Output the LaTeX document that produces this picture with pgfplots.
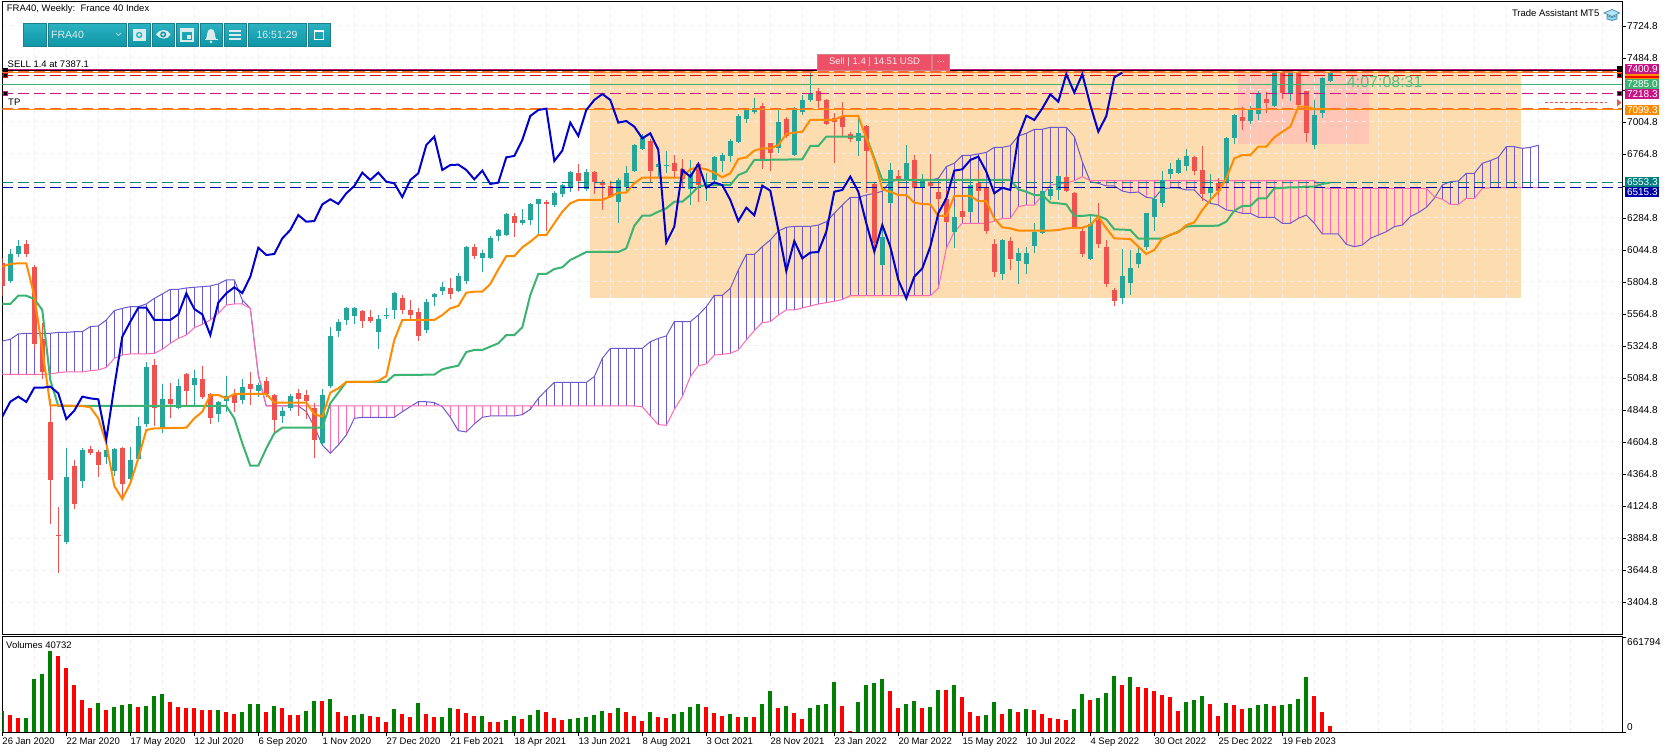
\documentclass[border=0pt]{standalone}
\usepackage{fontspec}
\setmainfont{Liberation Sans}
\usepackage{pgfplots}
\usepackage{pgfplotstable}
\pgfplotsset{compat=1.18}
\definecolor{cup}{HTML}{26A69A}
\definecolor{cdn}{HTML}{EF5350}
\definecolor{ora}{HTML}{FF8C00}
\definecolor{grn}{HTML}{3CB371}
\definecolor{blu}{HTML}{0000CD}
\definecolor{spa}{HTML}{6A5ACD}
\definecolor{spb}{HTML}{FF69B4}
\definecolor{mag}{HTML}{C71585}
\definecolor{gridc}{HTML}{EFEFEF}
\definecolor{rectA}{HTML}{FDDCAF}
\definecolor{rectB}{HTML}{FFC5B5}
\definecolor{teal2}{HTML}{008080}
\definecolor{navy2}{HTML}{0000A8}
\definecolor{tbT}{HTML}{2BB2C1}
\definecolor{tbB}{HTML}{0E96A7}
\definecolor{tbL}{HTML}{1C7F8E}
\definecolor{tbI}{HTML}{DCEBEC}
\definecolor{sellc}{HTML}{EE5068}
\definecolor{dashO}{HTML}{FF6A33}
\newcommand{\fs}{\fontsize{9.5}{11}\selectfont}
\newcommand{\fp}{\fontsize{10}{11}\selectfont}

\pgfplotstableread[row sep=\\]{
i o h l c \\
0 5945 5985 5700 5775 \\ 1 5815 6050 5800 6015 \\ 2 6015 6120 5990 6075 \\ 3 6090 6120 5990 6015 \\
4 5920 5930 5300 5337 \\ 5 5377 5500 5075 5132 \\ 6 4755 4925 3990 4320 \\ 7 3910 4115 3620 3900 \\
8 3855 4560 3840 4342 \\ 9 4425 4470 4102 4140 \\ 10 4312 4558 4260 4545 \\ 11 4552 4575 4510 4522 \\
12 4530 4545 4345 4432 \\ 13 4492 4560 4440 4545 \\ 14 4387 4562 4350 4552 \\ 15 4560 4570 4170 4290 \\
16 4327 4570 4320 4467 \\ 17 4477 4795 4470 4725 \\ 18 4740 5202 4720 5167 \\ 19 5182 5225 4725 4862 \\
20 4712 5040 4675 4927 \\ 21 4927 5050 4785 4890 \\ 22 4862 5077 4850 5025 \\ 23 5115 5125 4875 4987 \\
24 5032 5145 4885 5085 \\ 25 5077 5175 4925 4942 \\ 26 4965 4970 4740 4785 \\ 27 4815 4915 4755 4905 \\
28 4915 5100 4830 4947 \\ 29 4965 5000 4830 4897 \\ 30 4920 5077 4890 5017 \\ 31 5040 5127 4880 5002 \\
32 4990 5045 4945 5030 \\ 33 5062 5090 4945 4965 \\ 34 4957 4965 4670 4770 \\ 35 4800 4870 4745 4837 \\
36 4860 4965 4840 4950 \\ 37 4972 5002 4800 4927 \\ 38 4957 4995 4780 4912 \\ 39 4860 4895 4485 4620 \\
40 4595 5002 4582 4957 \\ 41 5027 5467 5007 5400 \\ 42 5437 5527 5395 5505 \\ 43 5520 5615 5482 5610 \\
44 5550 5615 5490 5610 \\ 45 5587 5595 5462 5512 \\ 46 5542 5595 5495 5512 \\ 47 5430 5557 5302 5527 \\
48 5550 5610 5527 5557 \\ 49 5595 5730 5527 5725 \\ 50 5685 5707 5562 5595 \\ 51 5595 5670 5520 5557 \\
52 5580 5607 5365 5400 \\ 53 5445 5675 5425 5655 \\ 54 5692 5725 5625 5715 \\ 55 5737 5807 5707 5767 \\
56 5760 5832 5680 5715 \\ 57 5737 5870 5732 5850 \\ 58 5812 6075 5790 6067 \\ 59 6067 6090 5977 5999 \\
60 5985 6045 5880 6022 \\ 61 5985 6150 5977 6135 \\ 62 6150 6200 6112 6195 \\ 63 6157 6325 6152 6315 \\
64 6300 6320 6145 6247 \\ 65 6247 6352 6235 6270 \\ 66 6270 6400 6235 6390 \\ 67 6390 6430 6157 6425 \\
68 6405 6420 6187 6387 \\ 69 6382 6490 6367 6470 \\ 70 6465 6540 6445 6530 \\ 71 6507 6635 6480 6630 \\
72 6622 6690 6490 6562 \\ 73 6502 6650 6490 6630 \\ 74 6630 6637 6465 6555 \\ 75 6545 6570 6345 6535 \\
76 6525 6565 6435 6442 \\ 77 6405 6582 6250 6570 \\ 78 6517 6675 6490 6622 \\ 79 6637 6840 6630 6832 \\
80 6802 6915 6795 6885 \\ 81 6862 6875 6545 6637 \\ 82 6670 6815 6582 6690 \\ 83 6677 6785 6620 6683 \\
84 6697 6757 6595 6637 \\ 85 6652 6725 6520 6577 \\ 86 6502 6720 6385 6607 \\ 87 6690 6695 6405 6532 \\
88 6525 6620 6410 6535 \\ 89 6570 6750 6540 6742 \\ 90 6712 6775 6630 6757 \\ 91 6750 6875 6705 6862 \\
92 6855 7065 6850 7050 \\ 93 7027 7100 7000 7095 \\ 94 7080 7185 7065 7110 \\ 95 7125 7145 6655 6720 \\
96 6845 6850 6640 6772 \\ 97 6810 7105 6775 7005 \\ 98 7027 7045 6882 6900 \\ 99 6760 7120 6755 7095 \\
100 7082 7207 7057 7170 \\ 101 7170 7382 7157 7220 \\ 102 7237 7257 7100 7165 \\ 103 7170 7180 6985 6990 \\
104 7032 7070 6695 7007 \\ 105 7045 7157 6895 6965 \\ 106 6915 6932 6857 6880 \\ 107 6862 7032 6750 6920 \\
108 6975 6980 6470 6790 \\ 109 6540 6550 6020 6095 \\ 110 5932 6220 5930 6145 \\ 111 6400 6695 6395 6645 \\
112 6600 6645 6515 6580 \\ 113 6575 6832 6565 6700 \\ 114 6720 6757 6500 6507 \\ 115 6515 6615 6507 6570 \\
116 6557 6765 6515 6525 \\ 117 6480 6545 6370 6430 \\ 118 6425 6495 6245 6257 \\ 119 6182 6370 6057 6295 \\
120 6337 6420 6270 6295 \\ 121 6332 6570 6320 6532 \\ 122 6550 6645 6445 6490 \\ 123 6514 6532 6165 6190 \\
124 6090 6125 5840 5882 \\ 125 5865 6125 5820 6120 \\ 126 6115 6140 5895 5977 \\ 127 5965 6057 5787 6022 \\
128 5940 6065 5865 6022 \\ 129 6077 6245 6025 6182 \\ 130 6175 6495 6165 6487 \\ 131 6450 6532 6420 6500 \\
132 6495 6615 6420 6600 \\ 133 6595 6607 6482 6490 \\ 134 6474 6482 6207 6220 \\ 135 6187 6220 5995 6015 \\
136 5977 6307 5975 6240 \\ 137 6270 6395 6057 6090 \\ 138 6070 6120 5765 5790 \\ 139 5744 5760 5625 5665 \\
140 5682 6050 5640 5850 \\ 141 5800 6045 5707 5907 \\ 142 5940 6070 5907 6020 \\ 143 6065 6325 6045 6320 \\
144 6295 6450 6190 6427 \\ 145 6400 6640 6365 6570 \\ 146 6615 6695 6575 6652 \\ 147 6625 6732 6615 6720 \\
148 6675 6800 6640 6750 \\ 149 6740 6750 6607 6640 \\ 150 6645 6825 6415 6465 \\ 151 6470 6615 6400 6507 \\
152 6550 6582 6457 6490 \\ 153 6557 6895 6555 6887 \\ 154 6885 7062 6840 7057 \\ 155 7042 7120 6945 7012 \\
156 7012 7125 6990 7095 \\ 157 7065 7240 7020 7220 \\ 158 7175 7232 7070 7145 \\ 159 7125 7390 7115 7375 \\
160 7375 7390 7175 7220 \\ 161 7220 7390 7165 7375 \\ 162 7375 7390 7095 7132 \\ 163 7237 7240 6855 6925 \\
164 6832 7170 6800 7057 \\ 165 7075 7345 7035 7335 \\ 166 7312 7375 7305 7370 \\
}\candles

\pgfplotstableread[row sep=\\]{
i a b \\
0 5362 5112 \\ 1 5375 5112 \\ 2 5415 5112 \\ 3 5420 5112 \\ 4 5420 5112 \\ 5 5420 5112 \\ 6 5420 5115 \\ 7 5427 5125 \\
8 5427 5130 \\ 9 5432 5130 \\ 10 5432 5130 \\ 11 5470 5140 \\ 12 5475 5145 \\ 13 5520 5165 \\ 14 5590 5232 \\ 15 5607 5257 \\
16 5620 5265 \\ 17 5620 5265 \\ 18 5640 5265 \\ 19 5682 5270 \\ 20 5715 5300 \\ 21 5750 5345 \\ 22 5750 5382 \\ 23 5760 5407 \\
24 5765 5462 \\ 25 5770 5487 \\ 26 5775 5520 \\ 27 5790 5570 \\ 28 5820 5632 \\ 29 5820 5640 \\ 30 5670 5640 \\ 31 5607 5607 \\
32 5107 5107 \\ 33 4875 4875 \\ 34 4875 4875 \\ 35 4875 4875 \\ 36 4875 4875 \\ 37 4875 4875 \\ 38 4832 4875 \\ 39 4720 4875 \\
40 4582 4875 \\ 41 4520 4875 \\ 42 4582 4875 \\ 43 4657 4875 \\ 44 4782 4875 \\ 45 4790 4875 \\ 46 4790 4875 \\ 47 4790 4875 \\
48 4790 4875 \\ 49 4790 4875 \\ 50 4832 4875 \\ 51 4870 4875 \\ 52 4907 4875 \\ 53 4907 4875 \\ 54 4900 4875 \\ 55 4870 4875 \\
56 4790 4875 \\ 57 4690 4875 \\ 58 4680 4875 \\ 59 4740 4875 \\ 60 4790 4875 \\ 61 4800 4875 \\ 62 4800 4875 \\ 63 4800 4875 \\
64 4800 4875 \\ 65 4810 4875 \\ 66 4850 4875 \\ 67 4932 4875 \\ 68 4994 4875 \\ 69 5052 4875 \\ 70 5052 4875 \\ 71 5052 4875 \\
72 5052 4875 \\ 73 5052 4875 \\ 74 5095 4875 \\ 75 5232 4875 \\ 76 5307 4875 \\ 77 5307 4875 \\ 78 5307 4875 \\ 79 5307 4875 \\
80 5307 4870 \\ 81 5357 4800 \\ 82 5382 4735 \\ 83 5400 4730 \\ 84 5507 4850 \\ 85 5507 4945 \\ 86 5507 5095 \\ 87 5557 5177 \\
88 5620 5190 \\ 89 5705 5257 \\ 90 5705 5262 \\ 91 5757 5270 \\ 92 5895 5295 \\ 93 6012 5370 \\ 94 6012 5440 \\ 95 6070 5500 \\
96 6120 5507 \\ 97 6187 5557 \\ 98 6215 5595 \\ 99 6222 5595 \\ 100 6222 5610 \\ 101 6222 5625 \\ 102 6232 5640 \\ 103 6257 5650 \\
104 6320 5660 \\ 105 6382 5674 \\ 106 6440 5702 \\ 107 6440 5702 \\ 108 6457 5702 \\ 109 6470 5702 \\ 110 6485 5702 \\ 111 6557 5702 \\
112 6570 5702 \\ 113 6570 5702 \\ 114 6570 5702 \\ 115 6570 5702 \\ 116 6570 5702 \\ 117 6582 5757 \\ 118 6670 6057 \\ 119 6695 6182 \\
120 6755 6245 \\ 121 6755 6245 \\ 122 6765 6245 \\ 123 6777 6245 \\ 124 6815 6262 \\ 125 6815 6282 \\ 126 6827 6282 \\ 127 6900 6370 \\
128 6920 6382 \\ 129 6950 6382 \\ 130 6950 6457 \\ 131 6965 6532 \\ 132 6965 6540 \\ 133 6965 6545 \\ 134 6895 6565 \\ 135 6707 6595 \\
136 6557 6565 \\ 137 6545 6565 \\ 138 6525 6565 \\ 139 6525 6565 \\ 140 6487 6565 \\ 141 6474 6565 \\ 142 6480 6565 \\ 143 6440 6565 \\
144 6432 6565 \\ 145 6505 6565 \\ 146 6510 6565 \\ 147 6510 6565 \\ 148 6495 6565 \\ 149 6495 6565 \\ 150 6432 6565 \\ 151 6395 6565 \\
152 6382 6565 \\ 153 6345 6565 \\ 154 6337 6565 \\ 155 6320 6565 \\ 156 6320 6565 \\ 157 6290 6565 \\ 158 6290 6565 \\ 159 6290 6565 \\
160 6245 6565 \\ 161 6245 6565 \\ 162 6282 6565 \\ 163 6307 6565 \\ 164 6245 6565 \\ 165 6165 6512 \\ 166 6165 6507 \\ 167 6165 6507 \\
168 6087 6507 \\ 169 6070 6507 \\ 170 6082 6507 \\ 171 6132 6507 \\ 172 6157 6507 \\ 173 6182 6507 \\ 174 6220 6507 \\ 175 6232 6507 \\
176 6295 6507 \\ 177 6325 6507 \\ 178 6365 6507 \\ 179 6432 6445 \\ 180 6532 6425 \\ 181 6557 6387 \\ 182 6562 6387 \\ 183 6620 6432 \\
184 6620 6432 \\ 185 6695 6507 \\ 186 6715 6512 \\ 187 6740 6512 \\ 188 6820 6512 \\ 189 6820 6512 \\ 190 6807 6512 \\ 191 6815 6512 \\ 192 6830 6512 \\
}\cloud

\pgfplotstableread[row sep=\\]{
i v g \\
0 149 1 \\ 1 121 0 \\ 2 100 0 \\ 3 100 1 \\ 4 372 1 \\ 5 406 1 \\ 6 567 1 \\ 7 532 0 \\ 8 448 0 \\ 9 330 0 \\ 10 225 0 \\ 11 170 0 \\
12 204 1 \\ 13 156 0 \\ 14 176 1 \\ 15 190 1 \\ 16 197 1 \\ 17 176 0 \\ 18 183 1 \\ 19 253 1 \\ 20 267 1 \\ 21 211 0 \\ 22 176 0 \\ 23 170 0 \\
24 170 0 \\ 25 156 0 \\ 26 156 0 \\ 27 156 1 \\ 28 142 0 \\ 29 128 0 \\ 30 142 1 \\ 31 197 1 \\ 32 197 1 \\ 33 142 0 \\ 34 183 1 \\ 35 170 0 \\
36 121 0 \\ 37 121 0 \\ 38 149 1 \\ 39 218 1 \\ 40 218 0 \\ 41 232 1 \\ 42 142 0 \\ 43 114 0 \\ 44 121 1 \\ 45 128 1 \\ 46 114 0 \\ 47 107 0 \\
48 72 0 \\ 49 163 1 \\ 50 128 0 \\ 51 107 0 \\ 52 204 1 \\ 53 128 0 \\ 54 107 0 \\ 55 107 1 \\ 56 170 1 \\ 57 163 0 \\ 58 135 0 \\ 59 114 0 \\
60 114 1 \\ 61 72 0 \\ 62 72 0 \\ 63 86 1 \\ 64 114 1 \\ 65 93 0 \\ 66 121 1 \\ 67 156 1 \\ 68 142 0 \\ 69 100 0 \\ 70 86 0 \\ 71 93 1 \\
72 100 1 \\ 73 107 1 \\ 74 121 1 \\ 75 149 1 \\ 76 135 0 \\ 77 170 1 \\ 78 142 0 \\ 79 114 0 \\ 80 79 0 \\ 81 142 1 \\ 82 107 0 \\ 83 100 0 \\
84 128 1 \\ 85 142 1 \\ 86 176 1 \\ 87 197 1 \\ 88 176 0 \\ 89 135 0 \\ 90 114 0 \\ 91 128 1 \\ 92 107 0 \\ 93 107 1 \\ 94 107 0 \\ 95 197 1 \\
96 288 1 \\ 97 170 0 \\ 98 183 1 \\ 99 135 0 \\ 100 93 0 \\ 101 170 1 \\ 102 190 1 \\ 103 197 1 \\ 104 351 1 \\ 105 183 0 \\ 106 9 0 \\ 107 211 1 \\
108 330 1 \\ 109 344 1 \\ 110 372 1 \\ 111 288 0 \\ 112 170 0 \\ 113 197 1 \\ 114 218 1 \\ 115 170 0 \\ 116 176 1 \\ 117 295 1 \\ 118 295 0 \\ 119 330 1 \\
120 246 0 \\ 121 142 0 \\ 122 114 0 \\ 123 121 1 \\ 124 211 1 \\ 125 128 0 \\ 126 163 1 \\ 127 142 0 \\ 128 163 1 \\ 129 156 0 \\ 130 128 0 \\ 131 100 0 \\
132 93 0 \\ 133 86 0 \\ 134 163 1 \\ 135 267 1 \\ 136 225 0 \\ 137 239 1 \\ 138 274 1 \\ 139 392 1 \\ 140 330 0 \\ 141 385 1 \\ 142 316 0 \\ 143 309 0 \\
144 288 0 \\ 145 260 0 \\ 146 246 0 \\ 147 149 0 \\ 148 211 1 \\ 149 225 1 \\ 150 253 1 \\ 151 197 0 \\ 152 114 0 \\ 153 204 1 \\ 154 190 0 \\ 155 163 0 \\
156 170 1 \\ 157 190 1 \\ 158 197 1 \\ 159 183 0 \\ 160 190 1 \\ 161 197 1 \\ 162 232 1 \\ 163 385 1 \\ 164 253 0 \\ 165 142 0 \\ 166 44 0 \\
}\volumes

\begin{document}
\begin{tikzpicture}
\useasboundingbox (0,0) rectangle (1670pt,753pt);
% background rectangles below the grid
\begin{axis}[at={(2.3pt,119pt)},anchor=south west,scale only axis,width=1619.7pt,height=632pt,
  xmin=0,xmax=202.46,ymin=3164.8,ymax=7904.8,hide axis]
\addplot[fill=rectA,draw=none] coordinates {(73.46,5687)(73.46,7395)(189.8,7395)(189.8,5687)} -- cycle;
\addplot[fill=rectB,draw=none] coordinates {(154.4,6840)(154.4,7375)(170.8,7375)(170.8,6840)} -- cycle;
\end{axis}
% main panel
\begin{axis}[at={(2.3pt,119pt)},anchor=south west,scale only axis,width=1619.7pt,height=632pt,
  xmin=0,xmax=202.46,ymin=3164.8,ymax=7904.8,
  axis line style={line width=1pt,black},
  xtick={0,4,...,200},xticklabels={},xtick style={draw=none},
  ytick={3404.8,3644.8,3884.8,4124.8,4364.8,4604.8,4844.8,5084.8,5324.8,5564.8,5804.8,6044.8,6284.8,6524.8,6764.8,7004.8,7244.8,7484.8,7724.8},
  yticklabels={3404.8,3644.8,3884.8,4124.8,4364.8,4604.8,4844.8,5084.8,5324.8,5564.8,5804.8,6044.8,6284.8,{},6764.8,7004.8,{},7484.8,7724.8},
  ytick pos=right,yticklabel pos=right,tick align=outside,
  ytick style={black,line width=0.8pt},major tick length=4pt,
  yticklabel style={font=\fp,inner xsep=1pt},
  scaled y ticks=false,
  grid=major,grid style={gridc,line width=1pt,dash pattern=on 4pt off 4pt},
]
% cloud hatch
\addplot[draw=none,mark=none,forget plot,error bars/.cd,y dir=minus,y explicit,error mark=none,error bar style={spa,line width=1pt}]
  table[x=i,y=a,y error minus expr={max(\thisrow{a}-\thisrow{b},0)}]{\cloud};
\addplot[draw=none,mark=none,forget plot,error bars/.cd,y dir=minus,y explicit,error mark=none,error bar style={spb,line width=1pt}]
  table[x=i,y=b,y error minus expr={max(\thisrow{b}-\thisrow{a},0)}]{\cloud};
\addplot[spa,line width=1pt,mark=none] table[x=i,y=a]{\cloud};
\addplot[spb,line width=1pt,mark=none] table[x=i,y=b]{\cloud};
% candles: wicks then bodies
\addplot[draw=none,mark=none,forget plot,error bars/.cd,y dir=both,y explicit,error mark=none,error bar style={cup,line width=1pt}]
  table[x=i,y expr={\thisrow{c}>=\thisrow{o}?\thisrow{o}:nan},y error plus expr={\thisrow{h}-\thisrow{o}},y error minus expr={\thisrow{o}-\thisrow{l}}]{\candles};
\addplot[draw=none,mark=none,forget plot,error bars/.cd,y dir=both,y explicit,error mark=none,error bar style={cdn,line width=1pt}]
  table[x=i,y expr={\thisrow{c}<\thisrow{o}?\thisrow{o}:nan},y error plus expr={\thisrow{h}-\thisrow{o}},y error minus expr={\thisrow{o}-\thisrow{l}}]{\candles};
\addplot[draw=none,mark=none,forget plot,error bars/.cd,y dir=plus,y explicit,error mark=none,error bar style={cup,line width=5pt}]
  table[x=i,y expr={\thisrow{c}>=\thisrow{o}?\thisrow{o}:nan},y error plus expr={\thisrow{c}-\thisrow{o}}]{\candles};
\addplot[draw=none,mark=none,forget plot,error bars/.cd,y dir=minus,y explicit,error mark=none,error bar style={cdn,line width=5pt}]
  table[x=i,y expr={\thisrow{c}<\thisrow{o}?\thisrow{o}:nan},y error minus expr={\thisrow{o}-\thisrow{c}}]{\candles};
% horizontal levels
\addplot[teal2,line width=1pt,dash pattern=on 11pt off 5pt] coordinates {(0,6553)(202.46,6553)};
\addplot[navy2,line width=1pt,dash pattern=on 11pt off 5pt] coordinates {(0,6515)(202.46,6515)};
\addplot[grn,line width=0.9pt] coordinates {(0,7287)(202.46,7287)};
\addplot[mag,line width=1pt,dash pattern=on 11pt off 5pt] coordinates {(0,7218)(202.46,7218)};
\addplot[red!90!black,line width=1pt,dash pattern=on 11pt off 5pt] coordinates {(0,7355)(202.46,7355)};
\addplot[ora,line width=0.7pt] coordinates {(0,7099)(202.46,7099)};
\addplot[dashO,line width=1.4pt,dash pattern=on 11pt off 5pt] coordinates {(0,7104)(202.46,7104)};
\addplot[orange!80!yellow,line width=0.7pt] coordinates {(0,7375)(202.46,7375)};
\addplot[dashO,line width=1.4pt,dash pattern=on 11pt off 5pt] coordinates {(0,7380)(202.46,7380)};
% Kijun
\addplot[grn,line width=2pt,mark=none] coordinates {
(0,5640)(1,5640)(2,5702)(3,5702)(4,5677)(5,5595)(6,5070)(7,4875)(28,4875)(29,4782)(30,4595)(31,4427)(32,4427)(33,4557)(34,4670)(35,4712)(40,4712)(41,4895)(42,4975)(43,5055)(48,5055)(49,5107)(54,5110)(55,5150)(56,5165)(57,5177)(58,5280)(59,5295)(60,5295)(61,5320)(62,5345)(63,5407)(64,5407)(65,5465)(66,5707)(67,5865)(68,5865)(69,5902)(70,5915)(71,5970)(72,5999)(73,6030)(77,6030)(78,6057)(79,6227)(80,6302)(81,6302)(82,6332)(83,6357)(84,6407)(85,6407)(86,6457)(87,6520)(88,6532)(91,6532)(92,6607)(93,6632)(94,6720)(100,6725)(101,6825)(102,6825)(103,6895)(108,6895)(109,6732)(110,6570)(126,6570)(127,6500)(128,6482)(129,6457)(130,6457)(131,6400)(132,6395)(133,6387)(134,6300)(135,6300)(136,6307)(137,6300)(138,6275)(139,6200)(141,6195)(142,6130)(145,6130)(146,6157)(147,6182)(148,6220)(149,6225)(152,6227)(153,6257)(154,6340)(155,6375)(156,6375)(157,6432)(158,6432)(159,6507)(161,6515)(162,6515)(163,6520)(164,6520)(165,6540)(166,6550)};
% Tenkan
\addplot[ora,line width=2pt,mark=none] coordinates {
(0,5920)(1,5940)(2,5945)(3,5945)(4,5700)(5,5300)(6,4880)(10,4875)(11,4865)(12,4782)(13,4595)(14,4275)(15,4177)(16,4295)(17,4482)(18,4695)(19,4707)(23,4712)(24,4782)(25,4832)(26,4957)(27,4957)(28,4932)(29,4965)(33,4965)(34,4900)(38,4900)(39,4815)(40,4795)(41,4975)(42,5007)(43,5055)(46,5055)(47,5062)(48,5100)(49,5370)(50,5520)(54,5520)(55,5557)(56,5607)(57,5625)(58,5725)(59,5732)(60,5732)(61,5790)(62,5900)(63,5999)(64,5999)(65,6065)(66,6107)(67,6157)(68,6157)(69,6245)(70,6332)(71,6395)(72,6420)(75,6420)(76,6445)(77,6475)(78,6475)(79,6545)(80,6587)(85,6587)(86,6652)(87,6662)(88,6650)(89,6625)(90,6590)(91,6620)(92,6727)(93,6740)(94,6790)(95,6807)(96,6807)(97,6832)(98,6915)(99,6925)(100,6932)(101,7020)(104,7020)(105,7050)(107,7050)(108,6882)(109,6720)(110,6500)(111,6482)(112,6457)(113,6457)(114,6400)(115,6390)(116,6387)(117,6300)(118,6300)(119,6450)(121,6450)(122,6412)(123,6412)(124,6282)(125,6215)(126,6207)(127,6190)(131,6190)(132,6195)(133,6207)(135,6212)(136,6232)(137,6295)(138,6207)(139,6132)(141,6127)(142,6070)(143,6015)(144,6045)(145,6132)(146,6160)(147,6177)(148,6232)(149,6252)(150,6345)(151,6420)(152,6482)(153,6582)(154,6732)(155,6757)(156,6757)(157,6820)(158,6820)(159,6890)(160,6932)(161,6970)(162,7120)(163,7120)(164,7102)(166,7102)};
% Chikou
\addplot[blu,line width=2pt,mark=none] coordinates {
(0,4795)(1,4907)(2,4945)(3,4905)(4,5012)(5,5012)(6,5020)(7,4970)(8,4777)(9,4840)(10,4945)(11,4932)(12,4925)(13,4625)(14,5020)(15,5395)(16,5507)(17,5612)(18,5612)(19,5520)(21,5520)(22,5562)(23,5720)(24,5602)(25,5562)(26,5407)(27,5650)(28,5720)(29,5765)(30,5722)(31,5844)(32,6062)(33,6007)(34,6015)(35,6132)(36,6195)(37,6307)(38,6257)(39,6262)(40,6387)(41,6425)(42,6390)(43,6470)(44,6525)(45,6625)(46,6570)(47,6625)(48,6557)(49,6545)(50,6442)(51,6570)(52,6620)(53,6832)(54,6895)(55,6645)(56,6682)(57,6685)(58,6645)(59,6575)(60,6640)(61,6540)(62,6550)(63,6740)(64,6750)(65,6870)(66,7050)(67,7095)(68,7105)(69,6712)(70,6790)(71,7000)(72,6900)(73,7095)(74,7170)(75,7215)(76,7170)(77,7000)(78,7012)(79,6970)(80,6882)(81,6920)(82,6795)(83,6100)(84,6220)(85,6645)(86,6595)(87,6690)(88,6512)(89,6552)(90,6532)(91,6420)(92,6262)(93,6362)(94,6305)(95,6527)(96,6490)(97,6195)(98,5887)(99,6112)(100,5982)(101,6025)(102,6030)(103,6182)(104,6482)(105,6495)(106,6595)(107,6482)(108,6245)(109,6032)(110,6232)(111,6070)(112,5820)(113,5682)(114,5845)(115,5907)(116,6070)(117,6320)(118,6432)(119,6640)(120,6650)(121,6720)(122,6745)(123,6632)(124,6470)(125,6512)(126,6495)(127,6895)(128,7052)(129,7020)(130,7107)(131,7212)(132,7157)(133,7364)(134,7225)(135,7364)(136,7132)(137,6932)(138,7050)(139,7340)(140,7375)};
% top lines
\addplot[black,line width=2pt] coordinates {(0,7394)(202.46,7394)};
\addplot[mag,line width=1pt] coordinates {(0,7401)(202.46,7401)};
% dotted arrow
\addplot[cdn,line width=1pt,dash pattern=on 3pt off 2pt] coordinates {(192.8,7149)(200.6,7149)};
\end{axis}
% volume panel
\begin{axis}[at={(2.3pt,20.7pt)},anchor=south west,scale only axis,width=1619.7pt,height=95.8pt,
  xmin=0,xmax=202.46,ymin=0,ymax=670,
  axis line style={line width=1pt,black},
  xtick={0,8,...,160},
  xticklabels={26 Jan 2020,22 Mar 2020,17 May 2020,12 Jul 2020,6 Sep 2020,1 Nov 2020,27 Dec 2020,21 Feb 2021,18 Apr 2021,13 Jun 2021,8 Aug 2021,3 Oct 2021,28 Nov 2021,23 Jan 2022,20 Mar 2022,15 May 2022,10 Jul 2022,4 Sep 2022,30 Oct 2022,25 Dec 2022,19 Feb 2023},
  minor xtick={4,12,20,28,36,44,52,60,68,76,84,92,100,108,116,124,132,140,148,156,164,168,172,176,180,184,188,192,196,200},
  xticklabel style={font=\fs,anchor=north west,inner xsep=0pt,inner ysep=0pt,yshift=-1.5pt},
  xtick pos=bottom,tick align=outside,major tick length=4pt,minor tick length=0pt,
  xtick style={black,line width=0.8pt},
  xmajorgrids,xminorgrids,
  grid style={gridc,line width=1pt,dash pattern=on 4pt off 4pt},
  minor grid style={gridc,line width=1pt,dash pattern=on 4pt off 4pt},
  ytick={0,661.794},yticklabels={},ytick pos=right,ytick style={black,line width=0.8pt},
]
\addplot[ycomb,line width=4pt,green!50!black,mark=none] table[x=i,y expr={\thisrow{g}>0?\thisrow{v}:nan}]{\volumes};
\addplot[ycomb,line width=4pt,red,mark=none] table[x=i,y expr={\thisrow{g}>0?nan:\thisrow{v}}]{\volumes};
\end{axis}
% overlays, in pixels from the top left
\begin{scope}[shift={(0,753pt)},x=1pt,y=-1pt]
\node[anchor=west,inner sep=0pt,font=\fs] at (6.7,9.5) {FRA40, Weekly:\ \ France 40 Index};
\node[anchor=west,inner sep=0pt,font=\fs] at (7.5,64.3) {SELL 1.4 at 7387.1};
\node[anchor=west,inner sep=0pt,font=\fs] at (8,102.7) {TP};
\node[anchor=west,inner sep=0pt,font=\fs] at (6,645) {Volumes 40732};
\node[anchor=west,inner sep=0pt,font=\fp] at (1627,641.7) {661794};
\node[anchor=west,inner sep=0pt,font=\fp] at (1627,727.5) {0};
\node[anchor=east,inner sep=0pt,font=\fs] at (1599.5,13.3) {Trade Assistant MT5};
% graduation cap
\fill[cyan!30!white,draw=cyan!60!black,line width=0.7pt] (1604,13) -- (1612,9.5) -- (1619.5,13) -- (1612,16.5) -- cycle;
\fill[cyan!45!white,draw=cyan!60!black,line width=0.7pt] (1607,15.5) -- (1607,19) -- (1612,20.5) -- (1617,19) -- (1617,15.5) -- (1612,17.5) -- cycle;
% toolbar
\foreach \a/\b in {23.3/46,48/126,128/150,152/174,176/198,200/222,224/246,248/306,308/330.5}{
  \path[top color=tbT,bottom color=tbB,draw=tbL,line width=0.8pt] (\a,23.5) rectangle (\b,46.5);}
\node[anchor=west,inner sep=0pt,text=tbI,font=\fontsize{10.5}{12}\selectfont] at (51,34.5) {FRA40};
\draw[tbI!70!tbB,line width=0.8pt] (116,33) -- (118.5,35.5) -- (121,33);
\node[anchor=center,inner sep=0pt,text=tbI,font=\fontsize{10.5}{12}\selectfont] at (277,34.5) {16:51:29};
% camera
\fill[tbI] (132.5,29) rectangle (146,41); \fill[tbT] (139.2,35) circle (3.2); \fill[tbI] (139.2,35) circle (1.8);
% eye
\fill[tbI] (156,34.5) .. controls (160,28.5) and (168,28.5) .. (170.5,34.5) .. controls (168,40) and (160,40) .. (156,34.5);
\fill[tbB] (163.2,34.5) circle (3); \fill[tbI] (163.2,34.5) circle (1.5);
% calendar
\draw[tbI,line width=1.6pt] (181,30) rectangle (193,41); \fill[tbI] (180,28) rectangle (194,32); \fill[tbI] (187,35) rectangle (191,39);
% bell
\fill[tbI] (206,39) .. controls (207.5,36) and (206.5,29) .. (211,29) .. controls (215.5,29) and (214.5,36) .. (216,39) -- cycle;
\fill[tbI] (204.5,39) rectangle (217.5,40.5); \fill[tbI] (211,42) circle (1.5);
% menu
\foreach \y in {31,35,39}{\fill[tbI] (229,\y-0.9) rectangle (241,\y+0.9);}
% restore
\draw[white,line width=1.5pt] (314.5,31) rectangle (323.5,39.5);
% Sell buttons
\fill[sellc,draw=black!15!sellc!70!white,line width=0.8pt] (817.7,54) rectangle (931,70.5);
\node[inner sep=0pt,text=white!90!sellc,font=\fs] at (874.5,62.2) {Sell | 1.4 | 14.51 USD};
\fill[sellc,draw=black!15!sellc!70!white,line width=0.8pt] (932.7,54) rectangle (949.3,70.5);
\node[inner sep=0pt,text=white!90!sellc,font=\fs] at (941,62.2) {...};
% countdown
\node[anchor=west,inner sep=0pt,text=grn!85!white,font=\fontsize{16}{18}\selectfont] at (1346.7,81.7) {4:07:08:31};
% handles
\fill[black] (2.5,68) rectangle (8,72);
\draw[red,fill=black,line width=0.8pt] (3,73) rectangle (7.5,77.5);
\draw[mag,fill=black,line width=0.8pt] (3,91) rectangle (7.5,95.5);
\fill[black] (1616.5,66) rectangle (1621.5,72);
\draw[red,fill=black,line width=0.8pt] (1617,73) rectangle (1621.5,77.5);
\draw[mag,fill=black,line width=0.8pt] (1617,91) rectangle (1621.5,95.5);
\fill[cdn] (1617,99) -- (1621.5,102.7) -- (1617,106.4) -- cycle;
% price labels
\fill[ora] (1625.3,74) rectangle (1659.3,79.5);
\fill[red] (1625.3,76.5) rectangle (1659.3,78);
\foreach \t/\c/\a/\b in {7400.9/mag/64/74,7285.0/grn/79.5/89.5,7218.3/mag/89.5/99,7099.3/ora/105/115,6515.3/navy2/187.5/197.5,6553.3/teal2/177/187.5}{
  \fill[\c] (1625.3,\a) rectangle (1659.3,\b);
  \node[inner sep=0pt,text=white,font=\fp] at (1642.3,{(\a+\b)/2}) {\t};}
\end{scope}
\end{tikzpicture}
\end{document}
